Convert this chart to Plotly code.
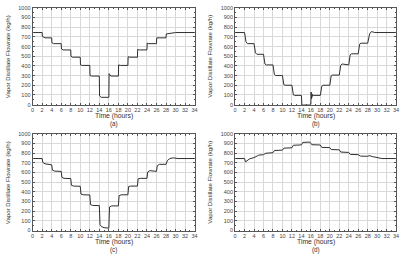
import plotly.graph_objects as go

W, H = 407, 257

# ---- data (time in hours, vapor distillate flowrate in kg/h) ----
t_a = [0, 2, 2.05, 2.6, 4, 4.05, 4.4, 6, 6.05, 6.4, 8, 8.05, 8.4, 10, 10.05, 10.4, 12, 12.05, 12.4,
       14, 14.05, 14.4, 16, 16.05, 16.4, 18, 18.05, 18.4, 20, 20.05, 20.4, 22, 22.05, 22.4, 24, 24.05,
       24.4, 26, 26.05, 28, 28.05, 29, 30, 34]
v_a = [745, 745, 705, 690, 690, 640, 630, 630, 575, 565, 565, 500, 490, 490, 410, 405, 405, 300, 295,
       295, 90, 75, 75, 320, 295, 295, 410, 405, 405, 495, 490, 490, 570, 565, 565, 635,
       630, 630, 690, 690, 730, 740, 745, 745]

t_b = [0, 2, 2.3, 2.6, 4, 4.3, 4.6, 6, 6.3, 6.6, 8, 8.3, 8.6, 10, 10.3, 10.6, 12, 12.3, 12.6,
       14, 14.1, 16, 16.05, 16.15, 16.25, 16.35, 16.5, 18, 18.3, 18.6, 20, 20.3, 20.6,
       22, 22.3, 22.6, 24, 24.3, 24.6, 26, 26.3, 26.6, 28, 28.4, 28.8, 29.5, 34]
v_b = [745, 745, 650, 630, 630, 535, 520, 520, 420, 410, 410, 310, 300, 300, 205, 200, 200, 100, 95,
       95, 0, 0, 130, 60, 110, 85, 95, 95, 190, 200, 200, 300, 305,
       305, 405, 420, 410, 515, 525, 525, 625, 635, 635, 730, 755, 745, 745]

t_c = [0, 2, 2.15, 2.6, 4, 4.15, 4.6, 6, 6.15, 6.6, 8, 8.15, 8.6, 10, 10.15, 10.6, 12, 12.15, 12.6,
       14, 14.15, 14.5, 15, 16, 16.15, 16.6, 18, 18.15, 18.6, 20, 20.15, 20.6, 22, 22.15, 22.6,
       24, 24.15, 24.6, 25.5, 26, 26.15, 26.6, 28, 28.3, 28.8, 29.5, 30.5, 34]
v_c = [745, 745, 705, 690, 680, 625, 615, 612, 550, 540, 538, 468, 460, 458, 378, 370, 368, 268, 260,
       258, 60, 40, 30, 25, 245, 255, 255, 360, 370, 370, 455, 460, 460, 535, 540,
       540, 605, 620, 615, 612, 670, 685, 685, 725, 745, 752, 745, 745]

t_d = [0, 2, 2.2, 3, 4, 4.3, 5, 6, 6.5, 8, 8.3, 10, 10.3, 12, 12.3, 14, 14.3, 15.8, 16.2, 18,
       18.3, 20, 20.3, 22, 22.3, 24, 24.3, 26, 26.5, 28, 28.3, 29, 30, 31, 34]
v_d = [745, 745, 710, 740, 755, 765, 780, 785, 800, 805, 828, 832, 852, 856, 882, 886, 912, 915, 888, 885,
       860, 858, 838, 835, 812, 808, 788, 785, 770, 768, 775, 765, 755, 745, 745]

panel_labels = ["(a)", "(b)", "(c)", "(d)"]
x_title = "Time (hours)"
y_title = "Vapor Distillate Flowrate (kg/h)"
x_ticks = list(range(0, 35, 2))
y_ticks = list(range(0, 1001, 100))

series = [(t_a, v_a), (t_b, v_b), (t_c, v_c), (t_d, v_d)]

# ---- layout geometry (pixels) ----
boxes = [(31, 195, 5, 104), (236, 399, 5, 104), (31, 195, 134, 233), (236, 399, 134, 233)]

FONT = "Liberation Sans, Arial, sans-serif"
fig = go.Figure()
layout = dict(width=W, height=H, margin=dict(l=0, r=0, t=0, b=0),
              paper_bgcolor="white", plot_bgcolor="white", showlegend=False,
              font=dict(family=FONT, color="#333333"))
annotations = []
for i, ((tx, vy), (x0, x1, y0, y1)) in enumerate(zip(series, boxes)):
    k = "" if i == 0 else str(i + 1)
    fig.add_trace(go.Scatter(x=tx, y=vy, mode="lines", xaxis="x" + k, yaxis="y" + k,
                             line=dict(color="#303030", width=1)))
    axis_common = dict(showline=True, linecolor="#555555", linewidth=1, mirror="ticks",
                       ticks="inside", ticklen=2, tickcolor="#555555",
                       showgrid=True, gridcolor="#d8d8d8", gridwidth=1, zeroline=False,
                       tickfont=dict(size=5.5, color="#444444", family=FONT))
    layout["xaxis" + k] = dict(axis_common, domain=[x0 / W, x1 / W], range=[0, 34],
                               tickvals=x_ticks, anchor="y" + k,
                               minor=dict(ticks="inside", ticklen=1, dtick=1, showgrid=False))
    layout["yaxis" + k] = dict(axis_common, domain=[1 - y1 / H, 1 - y0 / H], range=[0, 1000],
                               tickvals=y_ticks, anchor="x" + k,
                               minor=dict(ticks="inside", ticklen=1, dtick=50, showgrid=False))
    cx = (x0 + x1) / 2
    common_ann = dict(xref="paper", yref="paper", showarrow=False, xanchor="center", yanchor="middle")
    annotations.append(dict(common_ann, text=x_title, x=cx / W, y=1 - (y1 + 12) / H,
                            font=dict(size=6.8, color="#333333")))
    annotations.append(dict(common_ann, text=panel_labels[i], x=cx / W, y=1 - (y1 + 19.5) / H,
                            font=dict(size=6.3, color="#333333")))
    annotations.append(dict(common_ann, text=y_title, x=(x0 - 26) / W, y=1 - ((y0 + y1) / 2) / H,
                            textangle=-90, font=dict(size=6.1, color="#333333")))
layout["annotations"] = annotations
fig.update_layout(**layout)
fig.write_html("out.html")
